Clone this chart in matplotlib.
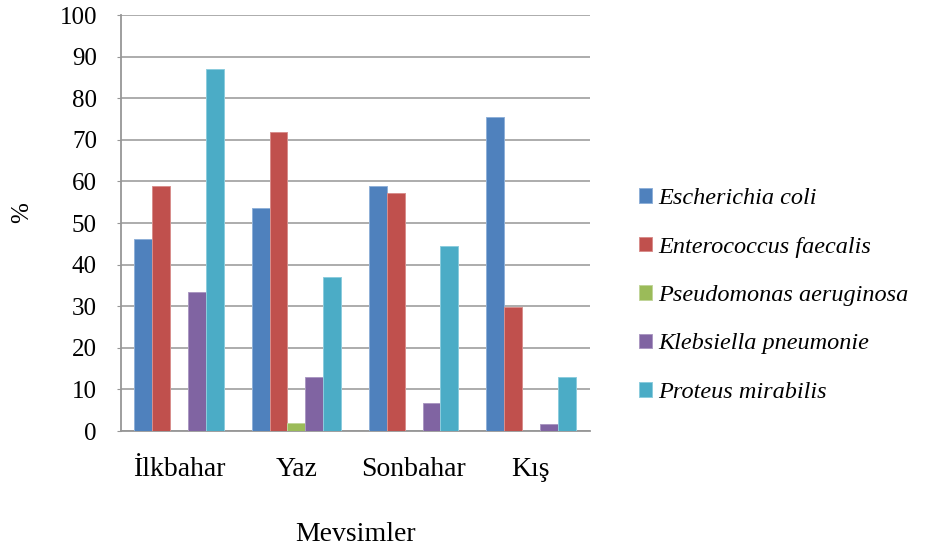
import numpy as np
import matplotlib
matplotlib.use("Agg")
import matplotlib.pyplot as plt

plt.rcParams['font.family'] = ['Liberation Serif', 'DejaVu Serif']

seasons = ["İlkbahar", "Yaz", "Sonbahar", "Kış"]
species = ["Escherichia coli", "Enterococcus faecalis", "Pseudomonas aeruginosa",
           "Klebsiella pneumonie", "Proteus mirabilis"]
e_coli = [46.2, 53.5, 59.0, 75.6]
e_faecalis = [59.0, 71.9, 57.3, 29.8]
p_aeruginosa = [0.0, 1.9, 0.0, 0.0]
k_pneumonie = [33.3, 12.9, 6.8, 1.8]
p_mirabilis = [86.9, 37.1, 44.4, 12.9]
yticks = list(range(0, 101, 10))

series = [e_coli, e_faecalis, p_aeruginosa, k_pneumonie, p_mirabilis]
colors = ["#4F81BD", "#C0504D", "#9BBB59", "#8064A2", "#4BACC6"]
edges = ["#8FB0D8", "#D88E8C", "#C1D59A", "#AB98C2", "#8CCCDD"]

W, H = 947, 545
fig = plt.figure(figsize=(W / 100, H / 100), dpi=100)
ax = fig.add_axes([120.5 / W, 1 - 431 / H, 469 / W, 416 / H])

x = np.arange(len(seasons))
bw = 0.1526
for i, (vals, c, ec, name) in enumerate(zip(series, colors, edges, species)):
    ax.bar(x + (i - 2) * bw, vals, width=bw, color=c, edgecolor=ec,
           linewidth=0.7, label=name, zorder=3)

ax.set_xlim(-0.5, len(seasons) - 0.5)
ax.set_ylim(0, 100)
ax.set_yticks(yticks)
ax.set_yticklabels([str(t) for t in yticks], fontsize=18)
ax.set_xticks(x)
ax.set_xticklabels(seasons, fontsize=20)
ax.tick_params(axis='y', length=3, color="#969696", pad=14)
ax.tick_params(axis='x', length=0, pad=19)
ax.grid(axis='y', color="#A6A6A6", linewidth=1.3, zorder=0)
ax.set_axisbelow(True)
for s in ("top", "right"):
    ax.spines[s].set_visible(False)
for s in ("left", "bottom"):
    ax.spines[s].set_color("#969696")
    ax.spines[s].set_linewidth(1.3)

fig.text(22 / W, 1 - 213 / H, "%", rotation=90, fontsize=18,
         ha='center', va='center')
fig.text(356 / W, 1 - 541 / H, "Mevsimler", fontsize=20,
         ha='center', va='baseline')

leg = fig.legend(loc='center left', bbox_to_anchor=(639 / W, 1 - 295.5 / H),
                 frameon=False, prop={'style': 'italic', 'size': 17.5},
                 handlelength=0.55, handleheight=0.55, handletextpad=0.25,
                 labelspacing=1.13, borderaxespad=0, borderpad=0)

fig.savefig("out.png", dpi=100, facecolor="white")
